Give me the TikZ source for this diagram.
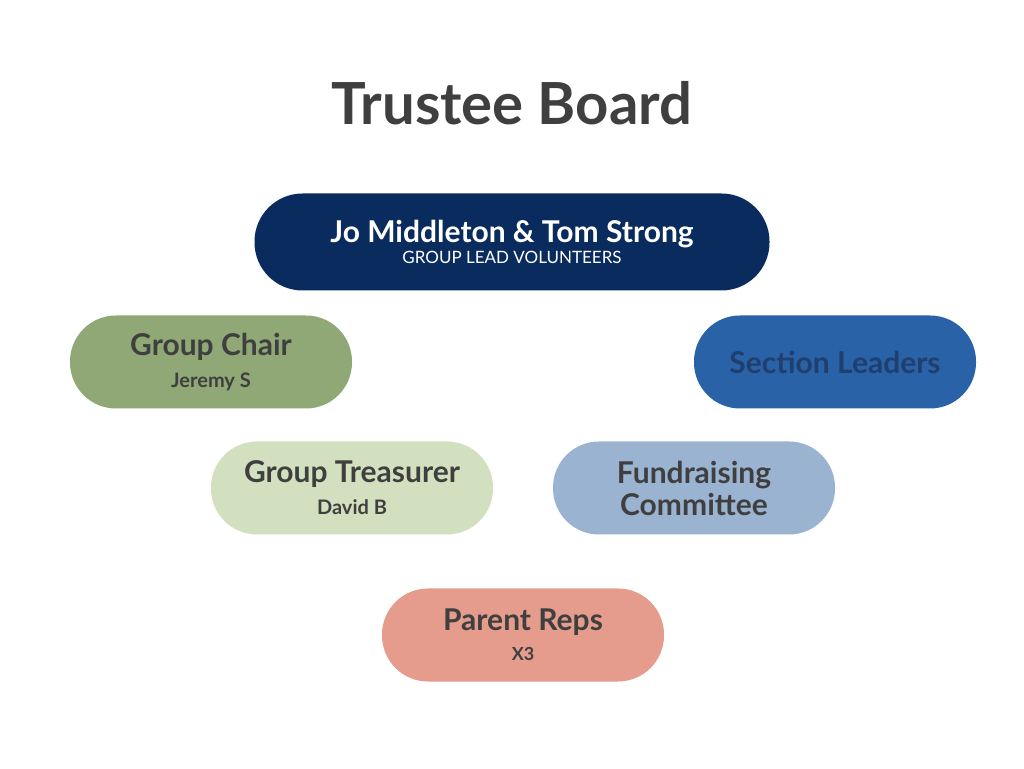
\documentclass[tikz,border=0pt]{standalone}
\usepackage{fontspec}
\setmainfont{Lato}
\usepackage{xcolor}
\definecolor{TitleGrey}{HTML}{3F3F3F}
\definecolor{LeadNavy}{HTML}{0A2B5E}
\definecolor{ChairGreen}{HTML}{8FA876}
\definecolor{SectionBlue}{HTML}{2A62A8}
\definecolor{SectionText}{HTML}{1F3F6E}
\definecolor{TreasurerGreen}{HTML}{D3E0C0}
\definecolor{FundBlue}{HTML}{9AB3D1}
\definecolor{ParentRed}{HTML}{E59C8C}
\tikzset{
  pill/.style={rectangle, rounded corners=46pt, minimum width=282pt, minimum height=93pt,
    inner sep=0pt, align=center, text=TitleGrey},
  big/.style={font=\fontsize{30}{34}\selectfont\bfseries},
}
\newcommand{\subline}[1]{\\[-2pt]{\fontsize{20}{22}\selectfont\bfseries #1}}
\begin{document}
\begin{tikzpicture}[x=1pt,y=1pt]
  \useasboundingbox[fill=white] (0,0) rectangle (1024,768);
  \node[text=TitleGrey, font=\fontsize{58}{60}\selectfont\bfseries] (title) at (512,665) {Trustee Board};
  \node[pill, fill=LeadNavy, text=white, minimum width=515pt, minimum height=97pt, rounded corners=48pt]
    (lead) at (512,526) {{\fontsize{30}{34}\selectfont\bfseries Jo Middleton \& Tom Strong}\\[2pt]
    {\fontsize{17}{20}\selectfont GROUP LEAD VOLUNTEERS}};
  \node[pill, big, fill=ChairGreen] (chair) at (211,406) {Group Chair\subline{Jeremy S}};
  \node[pill, big, fill=SectionBlue, text=SectionText] (section) at (835,406) {Section Leaders};
  \node[pill, big, fill=TreasurerGreen] (treasurer) at (352,280) {Group Treasurer\subline{David B}};
  \node[pill, big, fill=FundBlue] (fund) at (694,280) {Fundraising\\[-2pt]Committee};
  \node[pill, big, fill=ParentRed] (parent) at (523,133) {Parent Reps\\[-4pt]{\fontsize{18}{20}\selectfont X3}};
\end{tikzpicture}
\end{document}
